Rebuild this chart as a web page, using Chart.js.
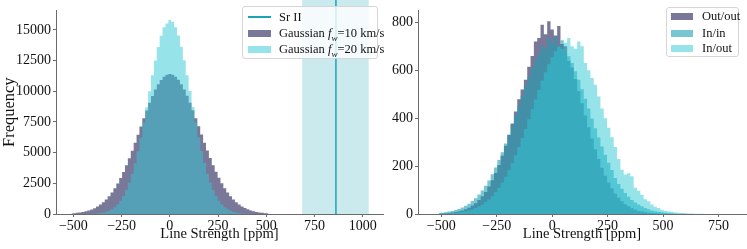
<!DOCTYPE html>
<html>
<head>
<meta charset="utf-8">
<script src="https://cdn.jsdelivr.net/npm/chart.js@4.4.0/dist/chart.umd.min.js"></script>
<style>
  body { margin: 0; background: #fff; width: 747px; height: 249px; overflow: hidden; position: relative;
         font-family: "Liberation Serif", "Times New Roman", serif; }
  .panel { position: absolute; top: 0; height: 249px; }
  #leftPanel { left: 0; width: 385px; }
  #rightPanel { left: 385px; width: 362px; }
  .legend { position: absolute; border: 1px solid #d6d6d6; border-radius: 3px; background: rgba(255,255,255,0.8);
            font-size: 12.5px; color: #111; box-sizing: border-box; }
  .legend .row { position: absolute; left: 0; height: 14px; width: 100%; }
  .legend .mark { position: absolute; top: 50%; }
  .legend .txt { position: absolute; top: 0; line-height: 14px; white-space: nowrap; }
</style>
</head>
<body>
<div class="panel" id="leftPanel"><canvas id="leftChart"></canvas></div>
<div class="panel" id="rightPanel"><canvas id="rightChart"></canvas></div>

<div class="legend" style="left:242px;top:6px;width:136px;height:53px;">
  <div class="row" style="top:3px"><div class="mark" style="left:5px;width:23px;height:2px;margin-top:-1px;background:#1ba3b6"></div><div class="txt" style="left:36px">Sr II</div></div>
  <div class="row" style="top:19px"><div class="mark" style="left:5px;width:23px;height:7px;margin-top:-3.5px;background:rgba(66,62,108,0.7)"></div><div class="txt" style="left:36px">Gaussian <i>f<sub style="font-size:9px">w</sub></i>=10 km/s</div></div>
  <div class="row" style="top:35px"><div class="mark" style="left:5px;width:23px;height:7px;margin-top:-3.5px;background:rgba(47,199,213,0.5)"></div><div class="txt" style="left:36px">Gaussian <i>f<sub style="font-size:9px">w</sub></i>=20 km/s</div></div>
</div>

<div class="legend" style="left:666px;top:7px;width:73px;height:50px;">
  <div class="row" style="top:1px"><div class="mark" style="left:4px;width:22px;height:7px;margin-top:-3.5px;background:rgba(66,62,108,0.7)"></div><div class="txt" style="left:35px">Out/out</div></div>
  <div class="row" style="top:18px"><div class="mark" style="left:4px;width:22px;height:7px;margin-top:-3.5px;background:rgba(31,160,180,0.6)"></div><div class="txt" style="left:35px">In/in</div></div>
  <div class="row" style="top:33px"><div class="mark" style="left:4px;width:22px;height:7px;margin-top:-3.5px;background:rgba(47,199,213,0.5)"></div><div class="txt" style="left:35px">In/out</div></div>
</div>

<script>
// --- left panel: simulated line strength histograms (bin centres, ppm)
const leftBins = [-510, -495, -480, -465, -450, -435, -420, -405, -390, -375, -360, -345, -330, -315, -300, -285, -270,
  -255, -240, -225, -210, -195, -180, -165, -150, -135, -120, -105, -90, -75, -60, -45, -30, -15, 0, 15, 30, 45, 60, 75,
  90, 105, 120, 135, 150, 165, 180, 195, 210, 225, 240, 255, 270, 285, 300, 315, 330, 345, 360, 375, 390, 405, 420, 435,
  450, 465, 480, 495, 510];
const gauss10 = [48, 66, 92, 125, 165, 220, 288, 372, 478, 608, 765, 952, 1178, 1440, 1745, 2095, 2495, 2940, 3430,
  3968, 4545, 5160, 5800, 6460, 7130, 7795, 8440, 9055, 9625, 10135, 10570, 10925, 11185, 11345, 11400, 11350, 11190,
  10935, 10580, 10145, 9640, 9070, 8455, 7810, 7145, 6475, 5815, 5175, 4560, 3982, 3445, 2952, 2506, 2108, 1757, 1450,
  1186, 960, 771, 614, 484, 377, 292, 224, 170, 128, 95, 71, 52];
const gauss20 = [0, 1, 1, 2, 4, 6, 11, 18, 29, 46, 74, 115, 175, 260, 381, 548, 774, 1072, 1458, 1946, 2548, 3276,
  4135, 5120, 6226, 7431, 8705, 10010, 11298, 12515, 13610, 14525, 15218, 15520, 15800, 15656, 15226, 14538, 13622,
  12530, 11314, 10028, 8722, 7448, 6243, 5136, 4148, 3288, 2558, 1955, 1465, 1078, 779, 552, 384, 263, 177, 117, 75, 47,
  29, 18, 11, 6, 4, 2, 1, 1, 0];
const srLine = 861;
const srRange = [686, 1031];
const leftXTicks = [-500, -250, 0, 250, 500, 750, 1000];
const leftYTicks = [0, 2500, 5000, 7500, 10000, 12500, 15000];

// --- right panel: observed combinations
const rightBins = [-510, -495, -480, -465, -450, -435, -420, -405, -390, -375, -360, -345, -330, -315, -300, -285,
  -270, -255, -240, -225, -210, -195, -180, -165, -150, -135, -120, -105, -90, -75, -60, -45, -30, -15, 0, 15, 30, 45,
  60, 75, 90, 105, 120, 135, 150, 165, 180, 195, 210, 225, 240, 255, 270, 285, 300, 315, 330, 345, 360, 375, 390, 405,
  420, 435, 450, 465, 480, 495, 510, 525, 540, 555, 570, 585, 600, 615, 630, 645, 660, 675, 690];
const outOut = [1, 2, 3, 4, 6, 8, 11, 15, 20, 26, 35, 45, 58, 74, 92, 115, 141, 171, 205, 243, 285, 330, 378, 428,
  479, 520, 560, 615, 660, 720, 735, 790, 750, 805, 770, 745, 785, 710, 700, 640, 612, 564, 513, 462, 411, 362, 315, 270,
  230, 193, 160, 132, 107, 86, 68, 53, 41, 32, 24, 18, 13, 10, 7, 5, 4, 3, 2, 1, 1, 0, 0, 0, 0, 0, 0, 0, 0, 0, 0, 0, 0];
const inIn = [4, 5, 7, 10, 13, 17, 21, 27, 34, 43, 54, 66, 81, 98, 118, 140, 166, 194, 225, 258, 294, 332, 372, 412,
  453, 494, 534, 572, 608, 640, 668, 700, 690, 735, 715, 740, 700, 725, 670, 659, 630, 596, 560, 521, 481, 440, 399,
  358, 319, 282, 247, 214, 184, 150, 125, 105, 88, 72, 58, 48, 40, 32, 25, 20, 15, 12, 9, 7, 5, 4, 3, 2, 1, 1, 1, 0,
  0, 0, 0, 0, 0];
const inOut = [1, 1, 2, 3, 4, 5, 7, 9, 12, 15, 19, 25, 32, 40, 50, 61, 75, 91, 110, 132, 156, 183, 212, 245, 280,
  317, 356, 396, 437, 478, 518, 556, 592, 625, 654, 679, 698, 690, 715, 735, 700, 690, 720, 700, 630, 600, 568, 540,
  491, 440, 400, 360, 320, 280, 230, 185, 165, 170, 158, 110, 97, 80, 62, 53, 40, 30, 25, 18, 14, 11, 9, 6, 5, 4, 3,
  2, 2, 1, 1, 1, 0];
const rightXTicks = [-500, -250, 0, 250, 500, 750];
const rightYTicks = [0, 200, 400, 600, 800];

const serif = '"Liberation Serif", "Times New Roman", serif';
const axisGray = '#6b6b6b';

function fmt(v) {
  return v < 0 ? '\u2212' + Math.abs(v) : String(v);
}

// histogram drawn as a filled step outline (no seams between bins)
function histSet(bins, values, color, order) {
  return {
    type: 'line',
    data: bins.map((x, i) => ({ x: x, y: values[i] })),
    stepped: 'middle',
    fill: 'origin',
    backgroundColor: color,
    borderWidth: 0,
    borderColor: 'rgba(0,0,0,0)',
    pointRadius: 0,
    order: order
  };
}

function axes(xr, yr, xTicks, yTicks, yWidth, showYTitle) {
  return {
    x: {
      type: 'linear', min: xr[0], max: xr[1], offset: false,
      afterBuildTicks: s => { s.ticks = xTicks.map(v => ({ value: v })); },
      afterFit: s => { s.height = 35; },
      grid: { display: true, offset: false, drawOnChartArea: false, drawTicks: true, tickLength: 3, color: axisGray },
      border: { display: true, color: axisGray, width: 1 },
      ticks: { color: '#111', font: { family: serif, size: 14 }, padding: 1, maxRotation: 0, callback: fmt },
      title: { display: true, text: 'Line Strength [ppm]', color: '#111', font: { family: serif, size: 14.5 },
               padding: { top: 0, bottom: 6 } }
    },
    y: {
      type: 'linear', min: yr[0], max: yr[1],
      afterBuildTicks: s => { s.ticks = yTicks.map(v => ({ value: v })); },
      afterFit: s => { s.width = yWidth; },
      grid: { display: true, offset: false, drawOnChartArea: false, drawTicks: true, tickLength: 3, color: axisGray },
      border: { display: true, color: axisGray, width: 1 },
      ticks: { color: '#111', font: { family: serif, size: 14 }, padding: 2, callback: fmt },
      title: { display: showYTitle, text: 'Frequency', color: '#111', font: { family: serif, size: 16.5 },
               padding: { top: 0, bottom: 0 } }
    }
  };
}

// shaded Sr II range and its line, placed through the x scale
const srPlugin = {
  id: 'srPlugin',
  beforeDatasetsDraw(chart) {
    const { ctx, chartArea: a, scales: { x } } = chart;
    const x0 = x.getPixelForValue(srRange[0]);
    const x1 = x.getPixelForValue(srRange[1]);
    ctx.save();
    ctx.fillStyle = 'rgba(27,163,182,0.23)';
    ctx.fillRect(x0, 0, x1 - x0, a.bottom);
    ctx.restore();
  },
  afterDatasetsDraw(chart) {
    const { ctx, chartArea: a, scales: { x } } = chart;
    const px = x.getPixelForValue(srLine);
    ctx.save();
    ctx.strokeStyle = '#1ba3b6';
    ctx.lineWidth = 1.5;
    ctx.beginPath();
    ctx.moveTo(px, 0);
    ctx.lineTo(px, a.bottom);
    ctx.stroke();
    ctx.restore();
  }
};

const common = {
  responsive: true,
  maintainAspectRatio: false,
  animation: false,
  plugins: { legend: { display: false }, tooltip: { enabled: false } }
};

new Chart(document.getElementById('leftChart'), {
  type: 'line',
  data: {
    datasets: [
      histSet(leftBins, gauss10, 'rgba(66,62,108,0.7)', 2),
      histSet(leftBins, gauss20, 'rgba(47,199,213,0.5)', 1)
    ]
  },
  options: Object.assign({}, common, {
    layout: { padding: { top: 2, right: 2, left: 0, bottom: 0 } },
    scales: axes([-590, 1105], [0, 16590], leftXTicks, leftYTicks, 56, true)
  }),
  plugins: [srPlugin]
});

new Chart(document.getElementById('rightChart'), {
  type: 'line',
  data: {
    datasets: [
      histSet(rightBins, outOut, 'rgba(66,62,108,0.7)', 3),
      histSet(rightBins, inIn, 'rgba(31,160,180,0.6)', 2),
      histSet(rightBins, inOut, 'rgba(47,199,213,0.5)', 1)
    ]
  },
  options: Object.assign({}, common, {
    layout: { padding: { top: 2, right: 1, left: 0, bottom: 0 } },
    scales: axes([-605, 874], [0, 850], rightXTicks, rightYTicks, 33, false)
  })
});
</script>
</body>
</html>
